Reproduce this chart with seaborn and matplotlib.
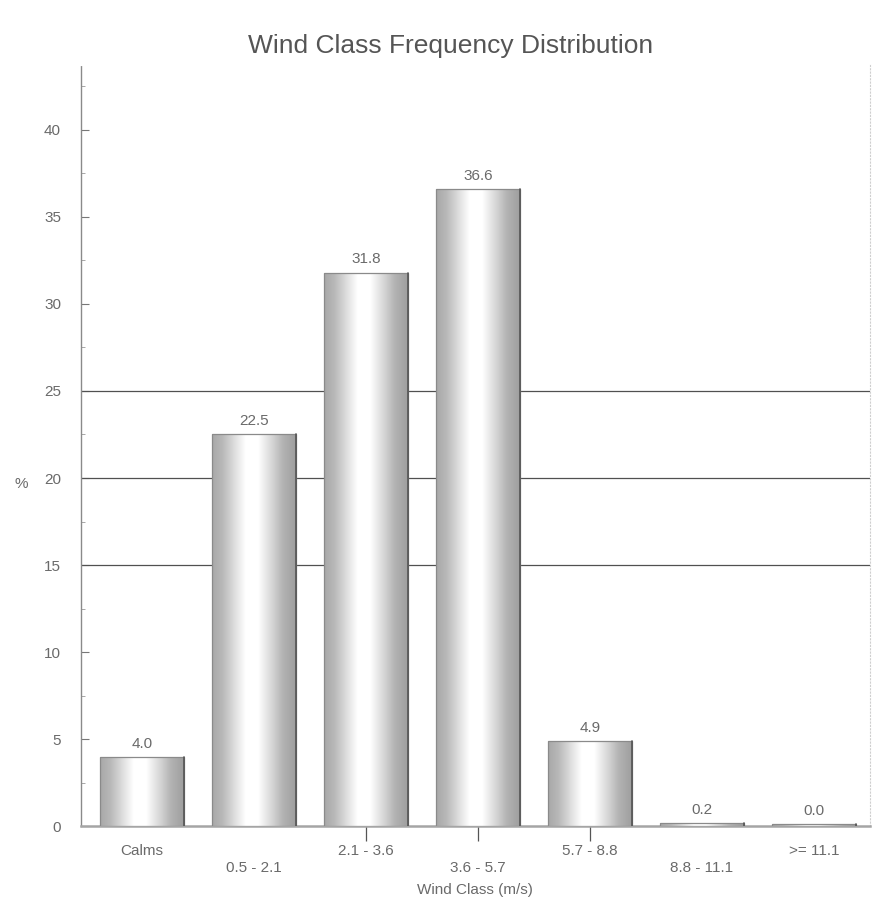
import numpy as np
import pandas as pd
import matplotlib
matplotlib.use("Agg")
import matplotlib.pyplot as plt
import seaborn as sns

# Wind class frequency data
categories = ["Calms", "0.5 - 2.1", "2.1 - 3.6", "3.6 - 5.7", "5.7 - 8.8", "8.8 - 11.1", ">= 11.1"]
frequency = [4.0, 22.5, 31.8, 36.6, 4.9, 0.2, 0.0]
y_ticks = [0, 5, 10, 15, 20, 25, 30, 35, 40]
grid_levels = [15, 20, 25]

sns.set_theme(style="white")
plt.rcParams["font.family"] = ["Liberation Sans", "DejaVu Sans"]

text_color = "#6a6a6a"

df = pd.DataFrame({"Wind Class": categories, "Frequency": frequency})

fig = plt.figure(figsize=(8.75, 9.07), dpi=100)
ax = fig.add_axes([0.092, 0.089, 0.902, 0.839])

sns.barplot(data=df, x="Wind Class", y="Frequency", order=categories,
            color="#c4c4c4", width=0.75, ax=ax, zorder=3)

ax.set_xlim(-0.55, 6.5)
ax.set_ylim(0, 43.7)

# Cylindrical shading for each bar
xs = np.linspace(0, 1, 256)
profile = np.interp(xs, [0, 0.12, 0.40, 0.55, 0.85, 1.0],
                    [0.66, 0.72, 1.0, 1.0, 0.70, 0.62])
grad = np.tile(profile, (2, 1))
for patch in list(ax.patches):
    x0, y0 = patch.get_x(), patch.get_y()
    w, h = patch.get_width(), patch.get_height()
    if h <= 0:
        h = 0.12
        patch.set_height(h)
    im = ax.imshow(grad, cmap="gray", vmin=0, vmax=1, aspect="auto",
                   extent=[x0, x0 + w, y0, y0 + h], zorder=3.5,
                   interpolation="bilinear")
    im.set_clip_path(patch)
    patch.set_edgecolor("#8a8a8a")
    patch.set_linewidth(0.9)
    patch.set_zorder(4)
    patch.set_facecolor("none")
    # darker right-hand edge
    ax.plot([x0 + w, x0 + w], [y0, y0 + h], color="#555555", lw=1.2, zorder=4.5)

# Value labels above bars
for x, v in enumerate(frequency):
    ax.text(x, max(v, 0.12) + 0.35, f"{v:.1f}", ha="center", va="bottom",
            fontsize=11, color=text_color, zorder=5)

# Reference lines
for lvl in grid_levels:
    ax.axhline(lvl, color="#505050", linewidth=0.9, zorder=2)

# Axes styling
ax.set_yticks(y_ticks)
ax.set_yticks(np.arange(0, 43.5, 2.5), minor=True)
ax.tick_params(axis="y", which="major", direction="in", length=6, width=0.8,
               colors="#777777", labelcolor=text_color, labelsize=11, pad=14, left=True)
ax.tick_params(axis="y", which="minor", direction="in", length=3, width=0.6,
               colors="#999999", left=True)

ax.set_xticks(range(len(categories)))
ax.set_xticklabels([c if i % 2 == 0 else "\n" + c for i, c in enumerate(categories)])
ax.tick_params(axis="x", direction="inout", length=22, width=0.9, colors="#555555",
               labelcolor=text_color, labelsize=11, pad=2, bottom=True)
for i, tick in enumerate(ax.xaxis.get_major_ticks()):
    if i not in (2, 3, 4):
        tick.tick1line.set_visible(False)

ax.spines["top"].set_visible(False)
ax.spines["left"].set_color("#8a8a8a")
ax.spines["left"].set_linewidth(1.0)
ax.spines["left"].set_linestyle((0, (1, 1)))
ax.spines["right"].set_color("#cfcfcf")
ax.spines["right"].set_linewidth(0.8)
ax.spines["right"].set_linestyle((0, (1, 2)))
ax.spines["bottom"].set_color("#a5a5a5")
ax.spines["bottom"].set_linewidth(1.8)

ax.set_xlabel("Wind Class (m/s)", fontsize=11, color=text_color, labelpad=6)
ax.set_ylabel("%", fontsize=11, color=text_color, rotation=0, va="center")
ax.yaxis.set_label_coords(-0.075, 0.45)

fig.suptitle("Wind Class Frequency Distribution", fontsize=19, color="#555555",
             y=0.963, x=0.515)

fig.savefig("out.png", dpi=100, facecolor="white")
